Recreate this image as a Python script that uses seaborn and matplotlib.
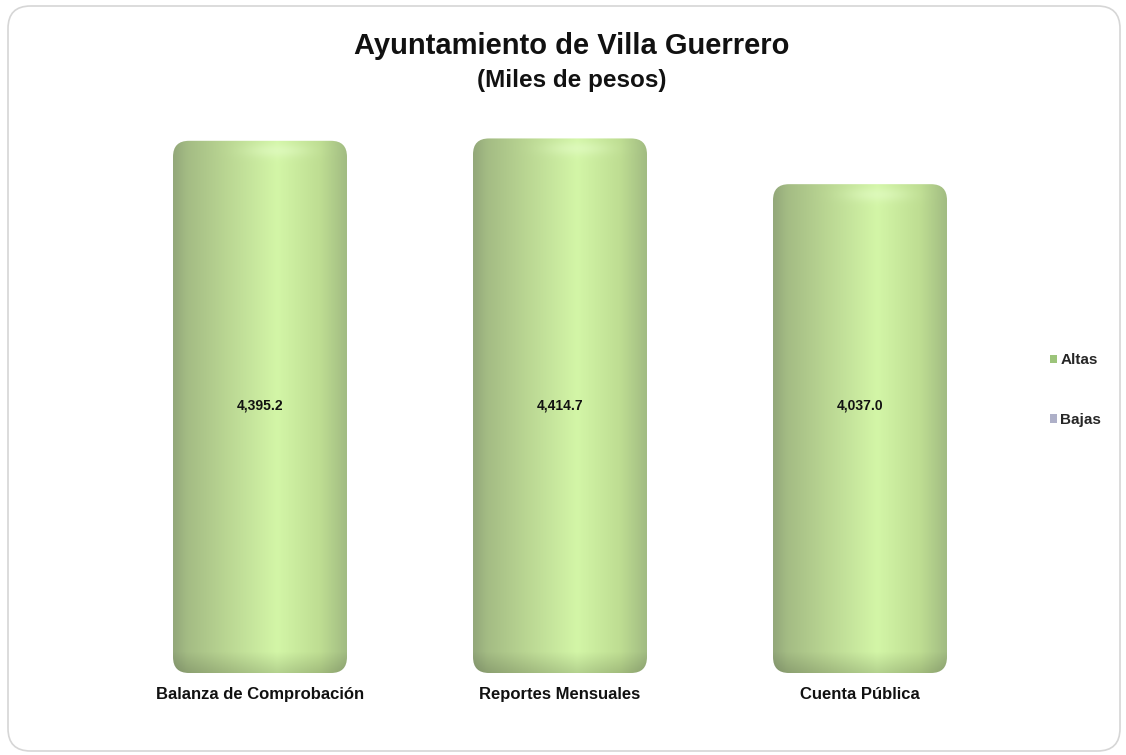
import seaborn as sns
import numpy as np
import pandas as pd
import matplotlib.pyplot as plt
from matplotlib.patches import FancyBboxPatch, Patch
from matplotlib.colors import LinearSegmentedColormap, to_rgb

categorias = ['Balanza de Comprobación', 'Reportes Mensuales', 'Cuenta Pública']
altas = [4395.2, 4414.7, 4037.0]
etiquetas = ['4,395.2', '4,414.7', '4,037.0']
series = ['Altas', 'Bajas']
colores_serie = ['#9cc47a', '#aeb0c8']

df = pd.DataFrame({'categoria': categorias, 'valor': altas})

sns.set_style('white')
plt.rcParams['font.family'] = ['Liberation Sans', 'DejaVu Sans']

fig = plt.figure(figsize=(11.26, 7.55), dpi=100)
ax = fig.add_axes([110 / 1126, 82 / 755, 900 / 1126, 557 / 755])

sns.barplot(data=df, x='categoria', y='valor', color='#b8d48f', width=0.58, ax=ax)
ax.set_ylim(0, 4600)
ax.set_xlim(-0.5, 2.5)

# cylinder look: gradient image clipped to a rounded box
cmap = LinearSegmentedColormap.from_list('cil', [
    (0.0, '#93a87a'), (0.08, '#a4bc84'), (0.3, '#b9d592'),
    (0.6, '#d3f6a7'), (0.85, '#bedd92'), (1.0, '#a2bc82')])
px_per_y = 557 / 4600
px_per_x = 300
for p in list(ax.patches):
    x, w, h = p.get_x(), p.get_width(), p.get_height()
    p.set_visible(False)
    rad = 16 / px_per_x
    box = FancyBboxPatch((x, 0), w, h, boxstyle=f'round,pad=0,rounding_size={rad}',
                         mutation_aspect=(16 / px_per_y) / rad,
                         facecolor='none', edgecolor='none', zorder=2)
    ax.add_patch(box)
    rows = int(h * px_per_y)
    cols = 200
    base = cmap(np.linspace(0, 1, cols))[:, :3]
    img = np.tile(base, (rows, 1, 1))
    r = np.arange(rows)[:, None]
    # darker band at the bottom
    bot = np.clip((r - (rows - 22)) / 22, 0, 1)
    img = img * (1 - 0.15 * bot[..., None])
    # soft highlight on the top cap
    top = np.exp(-((r - 10) / 7.0) ** 2)
    cc = np.linspace(-1, 1, cols)[None, :]
    hl = top * np.exp(-((cc - 0.2) / 0.35) ** 2)
    light = np.array(to_rgb('#e4fcc8'))
    img = img * (1 - 0.55 * hl[..., None]) + light * 0.55 * hl[..., None]
    im = ax.imshow(img, extent=(x, x + w, 0, h), aspect='auto', origin='upper',
                   interpolation='bilinear', zorder=2)
    im.set_clip_path(box)

for i, t in enumerate(etiquetas):
    ax.text(i, max(altas) * 0.5, t, ha='center', va='center',
            fontsize=10, fontweight='bold', color='#111111', zorder=3)

sns.despine(ax=ax, left=True, bottom=True)
ax.set_xlabel('')
ax.set_ylabel('')
ax.set_yticks([])
ax.tick_params(axis='x', length=0, pad=10)
for lab in ax.get_xticklabels():
    lab.set_fontsize(12)
    lab.set_fontweight('bold')
    lab.set_color('#111111')

fig.text(0.508, 1 - 46 / 755, 'Ayuntamiento de Villa Guerrero', ha='center', va='center',
         fontsize=21, fontweight='bold', color='#111111')
fig.text(0.508, 1 - 80 / 755, '(Miles de pesos)', ha='center', va='center',
         fontsize=17.5, fontweight='bold', color='#111111')

handles = [Patch(facecolor=c, edgecolor='none', label=s) for c, s in zip(colores_serie, series)]
fig.legend(handles=handles, loc='center left', bbox_to_anchor=(1036 / 1126, 1 - 390 / 755),
           frameon=False, handlelength=0.45, handleheight=0.45, handletextpad=0.25,
           labelspacing=3.0, prop={'size': 11, 'weight': 'bold'})

frame = FancyBboxPatch((8 / 1126, 4 / 755), 1112 / 1126, 745 / 755,
                       boxstyle='round,pad=0,rounding_size=0.02', mutation_aspect=1126 / 755,
                       transform=fig.transFigure, facecolor='none', edgecolor='#d6d6d6',
                       linewidth=1.2, zorder=0)
fig.patches.append(frame)

fig.savefig('out.png', dpi=100)
